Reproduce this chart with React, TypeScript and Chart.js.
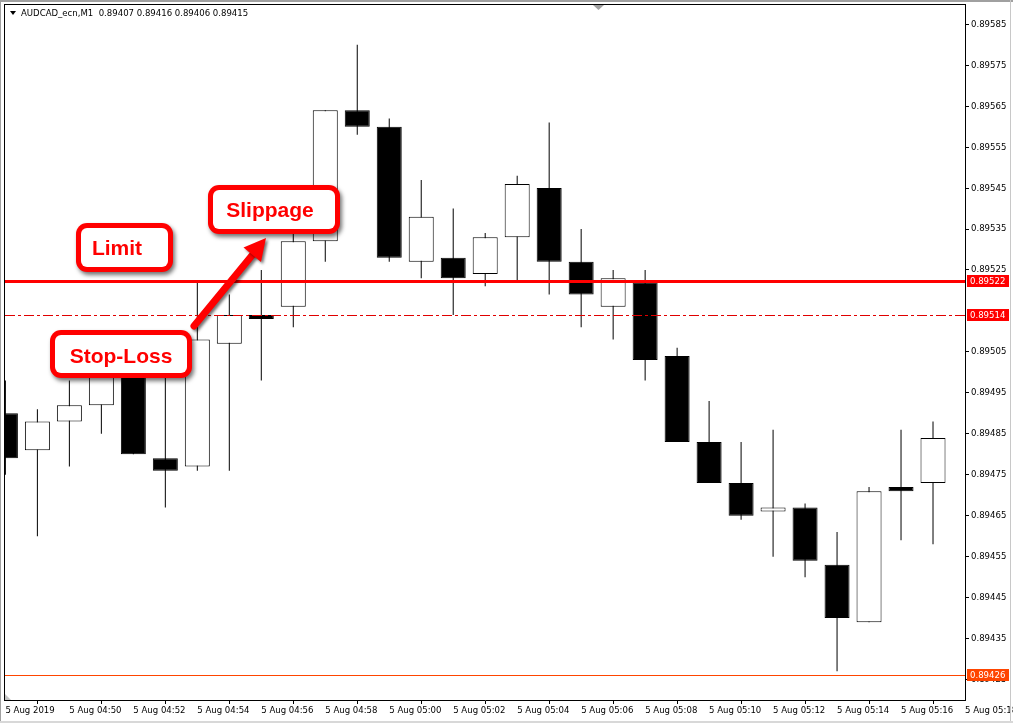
import React, { useEffect, useRef } from 'react';
import { Chart, registerables } from 'chart.js';

Chart.register(...registerables);

// ---- data ----
const candleTimes = [
  '04:48', '04:49', '04:50', '04:51', '04:52', '04:53', '04:54', '04:55', '04:56', '04:57',
  '04:58', '04:59', '05:00', '05:01', '05:02', '05:03', '05:04', '05:05', '05:06', '05:07',
  '05:08', '05:09', '05:10', '05:11', '05:12', '05:13', '05:14', '05:15', '05:16', '05:17',
];
const opens = [
  0.89490, 0.89481, 0.89488, 0.89492, 0.89501, 0.89479, 0.89477, 0.89507, 0.89514, 0.89516,
  0.89532, 0.89564, 0.89560, 0.89527, 0.89528, 0.89524, 0.89533, 0.89545, 0.89527, 0.89516,
  0.89522, 0.89504, 0.89483, 0.89473, 0.89466, 0.89467, 0.89453, 0.89439, 0.89472, 0.89473,
];
const highs = [
  0.89498, 0.89491, 0.89498, 0.89503, 0.89503, 0.89500, 0.89522, 0.89519, 0.89525, 0.89535,
  0.89564, 0.89580, 0.89562, 0.89547, 0.89540, 0.89534, 0.89548, 0.89561, 0.89535, 0.89525,
  0.89525, 0.89506, 0.89493, 0.89483, 0.89486, 0.89468, 0.89461, 0.89472, 0.89486, 0.89488,
];
const lows = [
  0.89475, 0.89460, 0.89477, 0.89485, 0.89480, 0.89467, 0.89476, 0.89476, 0.89498, 0.89511,
  0.89527, 0.89558, 0.89527, 0.89523, 0.89514, 0.89521, 0.89522, 0.89519, 0.89511, 0.89508,
  0.89498, 0.89483, 0.89473, 0.89464, 0.89455, 0.89450, 0.89427, 0.89439, 0.89459, 0.89458,
];
const closes = [
  0.89479, 0.89488, 0.89492, 0.89499, 0.89480, 0.89476, 0.89508, 0.89514, 0.89513, 0.89532,
  0.89564, 0.89560, 0.89528, 0.89538, 0.89523, 0.89533, 0.89546, 0.89527, 0.89519, 0.89523,
  0.89503, 0.89483, 0.89473, 0.89465, 0.89467, 0.89454, 0.89440, 0.89471, 0.89471, 0.89484,
];

const xTickValues = [0, 2, 4, 6, 8, 10, 12, 14, 16, 18, 20, 22, 24, 26, 28, 30];
const xTickLabels = [
  '5 Aug 2019', '5 Aug 04:50', '5 Aug 04:52', '5 Aug 04:54', '5 Aug 04:56', '5 Aug 04:58',
  '5 Aug 05:00', '5 Aug 05:02', '5 Aug 05:04', '5 Aug 05:06', '5 Aug 05:08', '5 Aug 05:10',
  '5 Aug 05:12', '5 Aug 05:14', '5 Aug 05:16', '5 Aug 05:18',
];
const yTickValues = [
  0.89425, 0.89435, 0.89445, 0.89455, 0.89465, 0.89475, 0.89485, 0.89495, 0.89505,
  0.89525, 0.89535, 0.89545, 0.89555, 0.89565, 0.89575, 0.89585,
];

const limitPrice = 0.89522;
const stopPrice = 0.89514;
const lastPrice = 0.89426;
const headerText = 'AUDCAD_ecn,M1  0.89407 0.89416 0.89406 0.89415';
const calloutTexts = ['Limit', 'Slippage', 'Stop-Loss'];

const AXIS_FONT_FAMILY = '"DejaVu Sans Condensed", "Liberation Sans", Arial, sans-serif';
const AXIS_FONT_SIZE = 9.5;

function roundRectPath(ctx: CanvasRenderingContext2D, x: number, y: number, w: number, h: number, r: number) {
  ctx.beginPath();
  ctx.moveTo(x + r, y);
  ctx.arcTo(x + w, y, x + w, y + h, r);
  ctx.arcTo(x + w, y + h, x, y + h, r);
  ctx.arcTo(x, y + h, x, y, r);
  ctx.arcTo(x, y, x + w, y, r);
  ctx.closePath();
}

function drawCallout(ctx: CanvasRenderingContext2D, x0: number, y0: number, x1: number, y1: number, text: string, tx: number, baseline: number) {
  const w = x1 - x0;
  const h = y1 - y0;
  ctx.save();
  ctx.shadowColor = 'rgba(0,0,0,0.55)';
  ctx.shadowBlur = 4;
  ctx.shadowOffsetX = 2;
  ctx.shadowOffsetY = 3;
  roundRectPath(ctx, x0, y0, w, h, 11);
  ctx.fillStyle = '#ff0000';
  ctx.fill();
  ctx.shadowColor = 'transparent';
  roundRectPath(ctx, x0 + 5, y0 + 5, w - 10, h - 10, 6);
  ctx.fillStyle = '#ffffff';
  ctx.fill();
  ctx.font = 'bold 21px "Liberation Sans", Arial, sans-serif';
  ctx.fillStyle = '#ff0000';
  ctx.textAlign = 'center';
  ctx.textBaseline = 'alphabetic';
  ctx.fillText(text, tx, baseline);
  ctx.restore();
}

const overlayPlugin = {
  id: 'mt4Overlay',
  beforeDraw(chart: any) {
    const ctx = chart.ctx as CanvasRenderingContext2D;
    ctx.save();
    ctx.fillStyle = '#ffffff';
    ctx.fillRect(0, 0, chart.width, chart.height);
    ctx.restore();
  },
  afterDraw(chart: any) {
    const ctx = chart.ctx as CanvasRenderingContext2D;
    const { left, right, top, bottom } = chart.chartArea;
    const ys = chart.scales.y;
    ctx.save();

    // window chrome
    ctx.fillStyle = '#a0a0a0';
    ctx.fillRect(0, 0, chart.width, 2);
    ctx.fillRect(0, 0, 1, chart.height);
    ctx.fillStyle = '#c8c8c8';
    ctx.fillRect(1010, 0, 1, chart.height);
    ctx.fillStyle = '#d8d8d8';
    ctx.fillRect(0, 721, chart.width, 2);

    // frame lines (left & top)
    ctx.fillStyle = '#000000';
    ctx.fillRect(left - 1, top - 1, 1, bottom - top + 2);
    ctx.fillRect(left - 1, top - 1, right - left + 2, 1);

    // gray markers
    ctx.fillStyle = '#a0a0a0';
    ctx.beginPath();
    ctx.moveTo(593, top);
    ctx.lineTo(604, top);
    ctx.lineTo(598.5, top + 5);
    ctx.closePath();
    ctx.fill();
    ctx.fillStyle = '#c4c4c4';
    ctx.beginPath();
    ctx.moveTo(left, bottom - 6);
    ctx.lineTo(left, bottom);
    ctx.lineTo(left + 6, bottom);
    ctx.closePath();
    ctx.fill();

    // horizontal level lines
    const yLimit = Math.round(ys.getPixelForValue(limitPrice)) - 0.5;
    const yStop = Math.round(ys.getPixelForValue(stopPrice)) + 0.5;
    const yLast = Math.round(ys.getPixelForValue(lastPrice)) + 0.5;

    ctx.save();
    ctx.beginPath();
    ctx.rect(left, top, right - left, bottom - top);
    ctx.clip();
    ctx.strokeStyle = '#ff4500';
    ctx.lineWidth = 1;
    ctx.beginPath();
    ctx.moveTo(left, yLast);
    ctx.lineTo(right, yLast);
    ctx.stroke();

    ctx.strokeStyle = '#e00000';
    ctx.setLineDash([10, 3, 3, 3]);
    ctx.beginPath();
    ctx.moveTo(left, yStop);
    ctx.lineTo(right, yStop);
    ctx.stroke();
    ctx.setLineDash([]);

    ctx.strokeStyle = '#ff0000';
    ctx.lineWidth = 3;
    ctx.beginPath();
    ctx.moveTo(left, yLimit);
    ctx.lineTo(right, yLimit);
    ctx.stroke();
    ctx.restore();

    // price tags on the right axis
    const tag = (y: number, price: number, color: string) => {
      ctx.fillStyle = color;
      ctx.fillRect(right + 2, Math.round(y - 6.5), 42, 12);
      ctx.fillStyle = '#ffffff';
      ctx.font = `${AXIS_FONT_SIZE}px ${AXIS_FONT_FAMILY}`;
      ctx.textAlign = 'left';
      ctx.textBaseline = 'middle';
      ctx.fillText(price.toFixed(5), right + 5, y);
    };
    tag(yLimit, limitPrice, '#ff0000');
    tag(yStop, stopPrice, '#ff0000');
    tag(yLast, lastPrice, '#ff4500');

    // header
    ctx.fillStyle = '#000000';
    ctx.beginPath();
    ctx.moveTo(10, 11);
    ctx.lineTo(16, 11);
    ctx.lineTo(13, 15);
    ctx.closePath();
    ctx.fill();
    ctx.font = `${AXIS_FONT_SIZE}px ${AXIS_FONT_FAMILY}`;
    ctx.textAlign = 'left';
    ctx.textBaseline = 'alphabetic';
    ctx.fillText(headerText, 21, 16);

    // callouts
    drawCallout(ctx, 76, 223, 173, 272, calloutTexts[0], 117, 255);
    drawCallout(ctx, 208, 185, 340, 234, calloutTexts[1], 270, 217);
    drawCallout(ctx, 50, 330, 192, 378, calloutTexts[2], 121, 363);

    // arrow
    ctx.save();
    ctx.shadowColor = 'rgba(0,0,0,0.55)';
    ctx.shadowBlur = 3;
    ctx.shadowOffsetX = 2;
    ctx.shadowOffsetY = 2;
    ctx.strokeStyle = '#ff0000';
    ctx.fillStyle = '#ff0000';
    ctx.lineWidth = 7;
    ctx.lineCap = 'round';
    ctx.beginPath();
    ctx.moveTo(194, 326);
    ctx.lineTo(254, 253);
    ctx.stroke();
    ctx.beginPath();
    ctx.moveTo(266, 238);
    ctx.lineTo(261, 262);
    ctx.lineTo(243.5, 247.5);
    ctx.closePath();
    ctx.fill();
    ctx.restore();

    ctx.restore();
  },
};

export default function App() {
  const canvasRef = useRef<HTMLCanvasElement | null>(null);

  useEffect(() => {
    const canvas = canvasRef.current;
    if (!canvas) return;

    const bodies = opens.map((o, i) => ({ x: i, y: [o, closes[i]] }));
    const wicks = lows.map((l, i) => ({ x: i, y: [l, highs[i]] }));
    const bodyColors = opens.map((o, i) => (closes[i] >= o ? '#ffffff' : '#000000'));

    const font = { family: AXIS_FONT_FAMILY, size: AXIS_FONT_SIZE };

    const chart = new Chart(canvas, {
      type: 'bar',
      data: {
        datasets: [
          {
            label: 'body',
            data: bodies as any,
            backgroundColor: bodyColors,
            borderColor: '#000000',
            borderWidth: 1,
            borderSkipped: false,
            barThickness: 25,
            grouped: false,
            inflateAmount: 0,
            clip: 0,
            order: 0,
          } as any,
          {
            label: 'wick',
            data: wicks as any,
            backgroundColor: '#000000',
            borderWidth: 0,
            barThickness: 1,
            grouped: false,
            inflateAmount: 0,
            clip: 0,
            order: 1,
          } as any,
        ],
      },
      options: {
        responsive: false,
        animation: false,
        events: [],
        layout: { padding: { left: 5, top: 5, right: 0, bottom: 0 } },
        plugins: {
          legend: { display: false },
          tooltip: { enabled: false },
          title: { display: false },
        },
        scales: {
          x: {
            type: 'linear',
            position: 'bottom',
            min: -0.0125,
            max: 30,
            offset: false,
            afterBuildTicks: (s: any) => {
              s.ticks = xTickValues.map((v) => ({ value: v }));
            },
            afterFit: (s: any) => {
              s.height = 23;
              s.paddingLeft = 0;
              s.paddingRight = 0;
            },
            ticks: {
              autoSkip: false,
              maxRotation: 0,
              minRotation: 0,
              align: 'start',
              padding: 1,
              color: '#000000',
              font,
              callback: (v: any) => {
                const i = xTickValues.indexOf(Number(v));
                return i >= 0 ? xTickLabels[i] : '';
              },
            },
            grid: { drawOnChartArea: false, drawTicks: true, tickLength: 4, color: '#000000', lineWidth: 1 },
            border: { display: true, color: '#000000', width: 1 },
          },
          y: {
            type: 'linear',
            position: 'right',
            min: 0.8942,
            max: 0.895897,
            afterBuildTicks: (s: any) => {
              s.ticks = yTickValues.map((v) => ({ value: v }));
            },
            afterFit: (s: any) => {
              s.width = 48;
              s.paddingTop = 0;
              s.paddingBottom = 0;
            },
            ticks: {
              autoSkip: false,
              padding: 2,
              color: '#000000',
              font,
              callback: (v: any) => Number(v).toFixed(5),
            },
            grid: { drawOnChartArea: false, drawTicks: true, tickLength: 4, color: '#000000', lineWidth: 1 },
            border: { display: true, color: '#000000', width: 1 },
          },
        },
      } as any,
      plugins: [overlayPlugin],
    });

    return () => {
      chart.destroy();
    };
  }, []);

  return (
    <div style={{ position: 'fixed', left: 0, top: 0, width: 1013, height: 723, background: '#ffffff' }}>
      <canvas ref={canvasRef} width={1013} height={723} style={{ width: 1013, height: 723, display: 'block' }} />
    </div>
  );
}
